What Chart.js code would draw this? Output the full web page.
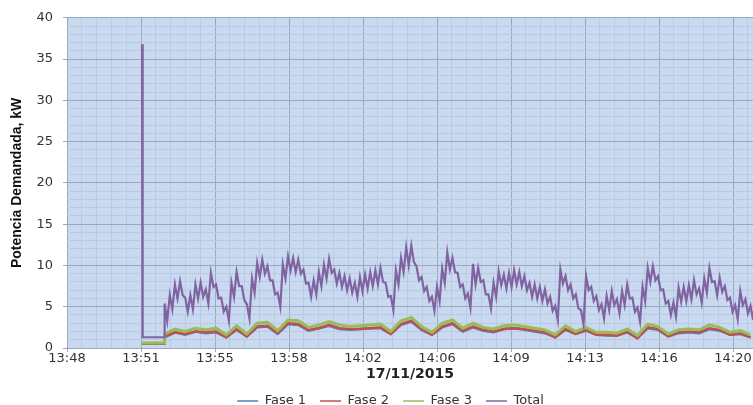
<!DOCTYPE html>
<html>
<head>
<meta charset="utf-8">
<title>Potencia Demandada</title>
<script src="https://cdn.jsdelivr.net/npm/chart.js@4.4.1/dist/chart.umd.min.js"></script>
<style>
  html, body { margin: 0; padding: 0; background: #fff; }
  #wrap { width: 753px; height: 405px; }
</style>
</head>
<body>
<div id="wrap"><canvas id="chart" width="753" height="405"></canvas></div>
<script>
// x axis is in minutes after 13:48 (Excel major unit 3.6 min, minor 0.72 min)
const xTickLabels = ['13:48', '13:51', '13:55', '13:58', '14:02', '14:06', '14:09', '14:13', '14:16', '14:20'];
const xMajorStep = 3.6;
const xMinorStep = 0.72;
const xMax = 33.37;
const yMax = 40;
const yMajorStep = 5;
const yMinorStep = 1;

// start of the record: spike, then idle stretch
const startTimes = [3.65, 3.68, 4.72];
const totalStart = [36.8, 1.3, 1.3];
const fase1Start = [0.5, 0.5, 0.5];
const fase2Start = [0.5, 0.5, 0.5];
const fase3Start = [0.6, 0.6, 0.6];

// Total is very noisy: top and bottom of the band every 0.25 min from 4.75
const totalFrom = 4.75;
const totalStep = 0.25;
const totalUpper = [
    5.4, 6.4, 7.7, 8.1, 6.1, 6.4, 7.7, 7.9, 7.1, 9.1,
    7.7, 6.1, 5.0, 7.9, 9.2, 7.5, 5.3, 8.4, 10.3, 10.7,
    9.9, 8.2, 6.7, 10.1, 11.1, 10.9, 10.7, 9.5, 7.9, 8.2,
    9.2, 10.1, 10.8, 9.5, 9.1, 8.7, 8.4, 7.9, 8.6, 8.9,
    9.2, 9.4, 9.7, 7.9, 6.3, 9.4, 10.9, 12.2, 12.4, 9.9,
    8.6, 7.4, 6.2, 7.4, 9.6, 11.6, 10.9, 9.1, 7.7, 6.6,
    10.2, 9.7, 8.2, 6.5, 7.9, 9.3, 8.9, 9.1, 9.4, 9.2,
    8.7, 7.9, 7.7, 7.4, 7.1, 6.2, 5.1, 9.5, 8.7, 7.7,
    6.5, 4.6, 8.7, 7.4, 6.3, 5.3, 6.3, 6.9, 5.9, 6.9,
    7.7, 6.1, 4.9, 7.4, 9.7, 9.9, 8.7, 7.1, 5.7, 5.5,
    7.3, 7.4, 7.6, 8.2, 7.2, 8.4, 9.7, 8.1, 8.5, 7.5,
    6.1, 5.2, 6.9, 5.9, 5.1, 4.6
];
const totalLower = [
    3.3, 4.7, 6.0, 6.4, 4.4, 4.7, 6.0, 6.2, 5.4, 7.4,
    6.0, 4.4, 3.3, 6.2, 7.5, 5.8, 3.6, 6.7, 8.6, 9.0,
    8.2, 6.5, 5.0, 8.4, 9.4, 9.2, 9.0, 7.8, 6.2, 6.5,
    7.5, 8.4, 9.1, 7.8, 7.4, 7.0, 6.7, 6.2, 6.9, 7.2,
    7.5, 7.7, 8.0, 6.2, 4.6, 7.7, 9.2, 10.0, 10.4, 8.2,
    6.9, 5.7, 4.5, 5.7, 7.9, 9.5, 9.2, 7.4, 6.0, 4.9,
    7.7, 8.0, 6.5, 4.8, 6.2, 7.6, 7.2, 7.4, 7.7, 7.5,
    7.0, 6.2, 6.0, 5.7, 5.4, 4.5, 3.4, 7.8, 7.0, 6.0,
    4.8, 2.9, 7.0, 5.7, 4.6, 3.6, 4.6, 5.2, 4.2, 5.2,
    6.0, 4.4, 3.2, 5.7, 8.0, 8.2, 7.0, 5.4, 4.0, 3.8,
    5.6, 5.7, 5.9, 6.5, 5.5, 6.7, 8.0, 6.4, 6.8, 5.8,
    4.4, 3.5, 5.2, 4.2, 3.4, 2.9
];

// phases, one reading every 0.5 min from 4.75
const faseFrom = 4.75;
const faseStep = 0.5;
const fase1Values = [
    1.3, 1.9, 1.6, 2.0, 1.8, 1.9, 1.3, 2.2, 1.4, 2.5,
    2.6, 1.7, 2.9, 2.8, 2.1, 2.4, 2.7, 2.3, 2.2, 2.3,
    2.4, 2.4, 1.7, 2.8, 3.2, 2.2, 1.6, 2.5, 2.9, 2.0,
    2.5, 2.1, 1.9, 2.3, 2.4, 2.2, 2.0, 1.8, 1.3, 2.2,
    1.7, 2.1, 1.6, 1.5, 1.5, 1.9, 1.2, 2.4, 2.2, 1.4,
    1.8, 1.9, 1.8, 2.3, 2.1, 1.6, 1.7, 1.3
];
const fase2Values = [
    1.4, 1.9, 1.7, 2.0, 1.9, 2.0, 1.3, 2.3, 1.4, 2.6,
    2.7, 1.8, 3.0, 2.9, 2.2, 2.4, 2.8, 2.4, 2.3, 2.3,
    2.4, 2.5, 1.7, 2.9, 3.3, 2.3, 1.6, 2.6, 3.0, 2.1,
    2.6, 2.2, 2.0, 2.3, 2.4, 2.3, 2.1, 1.9, 1.3, 2.3,
    1.7, 2.2, 1.6, 1.6, 1.5, 2.0, 1.2, 2.5, 2.3, 1.4,
    1.9, 2.0, 1.9, 2.4, 2.2, 1.6, 1.8, 1.3
];
const fase3Values = [
    1.7, 2.3, 2.0, 2.4, 2.2, 2.4, 1.6, 2.7, 1.7, 3.0,
    3.1, 2.1, 3.4, 3.3, 2.5, 2.8, 3.2, 2.8, 2.6, 2.7,
    2.8, 2.9, 2.0, 3.3, 3.7, 2.6, 1.9, 3.0, 3.4, 2.4,
    3.0, 2.5, 2.3, 2.7, 2.8, 2.6, 2.4, 2.2, 1.6, 2.7,
    2.0, 2.5, 1.9, 1.9, 1.8, 2.3, 1.5, 2.9, 2.6, 1.7,
    2.2, 2.3, 2.2, 2.8, 2.5, 1.9, 2.1, 1.6
];

const plotBackground = '#c9d9f0';
const majorGrid = '#9aa9c0';
const minorGrid = '#b9cae3';
const textColor = '#333333';

Chart.defaults.font.family = "'DejaVu Sans', sans-serif";
Chart.defaults.color = textColor;

// opening readings followed by the regular ones, as {x, y} points
function toPoints(startVals, from, step, vals) {
    const pts = startTimes.map((t, i) => ({ x: t, y: startVals[i] }));
    vals.forEach((v, i) => pts.push({ x: from + i * step, y: v }));
    return pts;
}

// Total: alternate top and bottom of the noise band, half a step apart
function bandPoints(startVals, from, step, upper, lower) {
    const pts = startTimes.map((t, i) => ({ x: t, y: startVals[i] }));
    upper.forEach((v, i) => {
        pts.push({ x: from + i * step, y: v });
        pts.push({ x: from + i * step + step / 2, y: lower[i] });
    });
    return pts;
}

function series(label, color, width, order, data) {
    return {
        label: label,
        data: data,
        borderColor: color,
        backgroundColor: color,
        borderWidth: width,
        pointRadius: 0,
        pointStyle: 'line',
        tension: 0,
        order: order,
        xAxisID: 'x',
        yAxisID: 'y'
    };
}

// light blue plot area like the Excel chart
const plotBg = {
    id: 'plotBg',
    beforeDraw(chart) {
        const { ctx, chartArea: a } = chart;
        ctx.save();
        ctx.fillStyle = plotBackground;
        ctx.fillRect(a.left, a.top, a.right - a.left, a.bottom - a.top);
        ctx.restore();
    }
};

// legend sits a bit right of the canvas centre in the original
const legendShift = {
    id: 'legendShift',
    afterLayout(chart) {
        chart.legend.left += 14;
        chart.legend.right += 14;
    }
};

new Chart(document.getElementById('chart'), {
    type: 'line',
    data: {
        datasets: [
            series('Fase 1', '#4f81bd', 2.5, 4, toPoints(fase1Start, faseFrom, faseStep, fase1Values)),
            series('Fase 2', '#c0504d', 2.5, 3, toPoints(fase2Start, faseFrom, faseStep, fase2Values)),
            series('Fase 3', '#9bbb59', 3, 2, toPoints(fase3Start, faseFrom, faseStep, fase3Values)),
            series('Total', '#8064a2', 2.2, 1, bandPoints(totalStart, totalFrom, totalStep, totalUpper, totalLower))
        ]
    },
    options: {
        responsive: false,
        animation: false,
        layout: { padding: { top: 16, right: 0, bottom: -12.5, left: 0 } },
        plugins: {
            legend: {
                position: 'bottom',
                labels: {
                    usePointStyle: true,
                    pointStyleWidth: 21,
                    padding: 14,
                    font: { size: 13 },
                    color: textColor,
                    sort: (a, b) => a.datasetIndex - b.datasetIndex,
                    generateLabels(chart) {
                        return Chart.defaults.plugins.legend.labels.generateLabels(chart)
                            .map(item => Object.assign(item, { lineWidth: 1.5 }));
                    }
                }
            },
            tooltip: { enabled: false }
        },
        scales: {
            xMinor: {
                type: 'linear',
                axis: 'x',
                position: 'bottom',
                min: 0,
                max: xMax,
                z: -1,
                afterBuildTicks(scale) {
                    const ticks = [];
                    for (let i = 0; i * xMinorStep <= xMax; i++) ticks.push({ value: i * xMinorStep });
                    scale.ticks = ticks;
                },
                afterFit(scale) { scale.height = 0; },
                ticks: { display: false },
                grid: { color: minorGrid, drawTicks: false },
                border: { display: false }
            },
            x: {
                type: 'linear',
                axis: 'x',
                position: 'bottom',
                min: 0,
                max: xMax,
                afterBuildTicks(scale) {
                    scale.ticks = xTickLabels.map((l, i) => ({ value: i * xMajorStep }));
                },
                afterFit(scale) { scale.height = 32.5; },
                ticks: {
                    autoSkip: false,
                    maxRotation: 0,
                    padding: -1,
                    font: { size: 13 },
                    color: textColor,
                    callback: (v, i) => xTickLabels[i]
                },
                grid: { color: majorGrid, tickLength: 4 },
                border: { display: false },
                title: {
                    display: true,
                    text: '17/11/2015',
                    color: '#222',
                    font: { size: 14, weight: 'bold' },
                    padding: { top: 0, bottom: -2 }
                }
            },
            yMinor: {
                type: 'linear',
                axis: 'y',
                position: 'left',
                min: 0,
                max: yMax,
                z: -1,
                ticks: { display: false, stepSize: yMinorStep },
                afterFit(scale) { scale.width = 0; },
                grid: { color: minorGrid, drawTicks: false },
                border: { display: false }
            },
            y: {
                type: 'linear',
                axis: 'y',
                position: 'left',
                min: 0,
                max: yMax,
                afterFit(scale) { scale.width = 67; },
                ticks: { stepSize: yMajorStep, padding: 10, font: { size: 13 }, color: textColor },
                grid: { color: majorGrid, tickLength: 4 },
                border: { display: false },
                title: {
                    display: true,
                    text: 'Potencia Demandada, kW',
                    color: '#111',
                    font: { family: "'Liberation Sans', Arial, sans-serif", size: 14, weight: 'bold' },
                    padding: { top: 9, bottom: 0 }
                }
            }
        }
    },
    plugins: [plotBg, legendShift]
});
</script>
</body>
</html>
